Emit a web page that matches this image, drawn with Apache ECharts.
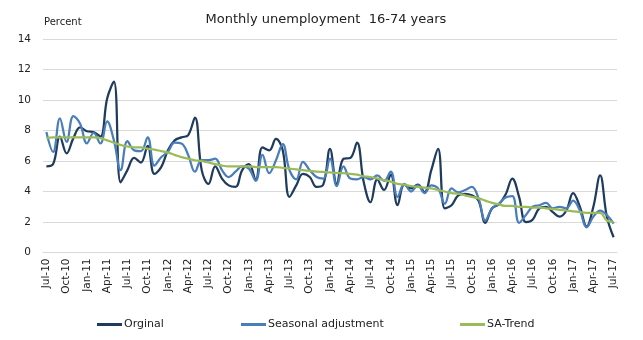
<!DOCTYPE html>
<html>
<head>
<meta charset="utf-8">
<script src="https://cdn.jsdelivr.net/npm/echarts@6/dist/echarts.min.js"></script>
<style>
html,body{margin:0;padding:0;background:#fff;}
#c{width:643px;height:340px;}
</style>
</head>
<body>
<div id="c"></div>
<script>
const months = ['Jan','Feb','Mar','Apr','May','Jun','Jul','Aug','Sep','Oct','Nov','Dec'];
const categories = [];
for (let k = 0; k < 85; k++) {
  const m = (6 + k) % 12;
  const y = 10 + Math.floor((6 + k) / 12);
  categories.push(months[m] + '-' + y);
}
const original = [
  5.65,5.8,7.6,6.5,7.5,8.2,7.95,7.9,7.6,10.1,11.2,4.6,5.4,6.2,5.9,7.0,
  5.15,5.6,6.7,7.35,7.55,7.7,8.85,5.4,4.5,5.65,4.85,4.4,4.3,5.4,5.8,4.75,6.9,6.7,
  7.45,6.7,3.65,4.4,5.15,4.95,4.3,4.45,6.8,4.5,6.15,6.2,7.2,4.6,3.3,4.8,4.1,5.1,
  3.1,4.45,4.2,4.45,3.95,5.4,6.8,2.9,3.1,3.75,3.85,3.75,3.4,1.95,2.9,3.15,3.8,
  4.85,3.65,2.0,2.15,2.9,3.0,2.65,2.35,2.75,3.9,3.0,1.7,3.0,5.05,2.35,1.0
];
const seasonal = [
  7.9,6.6,8.8,7.25,8.95,8.45,7.15,7.85,7.15,8.6,7.35,5.4,7.3,6.7,6.65,7.55,
  5.7,6.25,6.6,7.2,7.15,6.4,5.3,6.05,6.05,6.15,5.4,4.95,5.3,5.65,5.5,4.7,6.4,5.2,
  6.05,7.1,5.4,4.8,5.95,5.4,4.95,4.85,6.15,4.35,5.65,4.85,4.8,4.95,4.8,5.05,4.7,5.3,
  3.65,4.5,4.0,4.4,3.9,4.4,4.2,3.2,4.2,3.95,4.1,4.3,3.55,2.1,2.9,3.2,3.6,
  3.7,1.95,2.45,3.0,3.1,3.25,2.9,3.0,2.9,3.4,2.75,1.65,2.35,2.75,2.45,1.9
];
const trend = [
  7.5,7.55,7.55,7.55,7.55,7.55,7.55,7.55,7.5,7.35,7.2,7.05,6.95,6.9,6.9,6.8,
  6.75,6.65,6.55,6.4,6.25,6.15,6.05,6.0,5.9,5.8,5.7,5.65,5.65,5.65,5.65,5.6,5.6,5.6,
  5.6,5.55,5.5,5.45,5.4,5.35,5.3,5.28,5.25,5.22,5.2,5.15,5.1,5.0,4.95,4.85,4.75,4.65,
  4.5,4.45,4.35,4.3,4.25,4.2,4.1,4.0,3.9,3.85,3.75,3.65,3.55,3.4,3.25,3.15,3.05,
  3.05,3.0,3.0,2.95,2.95,2.9,2.85,2.8,2.75,2.7,2.65,2.6,2.6,2.6,2.1,2.0
];
const yTicks = [0,2,4,6,8,10,12,14];
const seriesNames = ['Orginal','Seasonal adjustment','SA-Trend'];
const seriesColors = ['#1f3b5e','#4a7ebb','#9bbb59'];

const font = 'DejaVu Sans, Verdana, sans-serif';
const legendLefts = [92, 236, 455];
const chart = echarts.init(document.getElementById('c'), null, {renderer:'canvas'});
chart.setOption({
  animation: false,
  backgroundColor: '#fff',
  title: [
    {text: 'Monthly unemployment  16-74 years', left: 321, top: 8, textAlign: 'center',
     textStyle: {fontFamily: font, fontSize: 13, fontWeight: 'normal', color: '#222'}},
    {text: 'Percent', left: 39, top: 12,
     textStyle: {fontFamily: font, fontSize: 10, fontWeight: 'normal', color: '#222'}}
  ],
  grid: {left: 43, right: 26, top: 39, bottom: 87.5},
  legend: seriesNames.map((n, i) => ({
    bottom: 5, left: legendLefts[i], itemWidth: 25, itemHeight: 3,
    icon: 'rect',
    textStyle: {fontFamily: font, fontSize: 11, color: '#222', padding: [0,0,0,-3]},
    data: [n]
  })),
  xAxis: {
    type: 'category', data: categories, boundaryGap: true,
    axisLine: {show: true, lineStyle: {color: '#d9d9d9'}},
    axisTick: {show: false},
    axisLabel: {interval: 2, rotate: 90, fontFamily: font, fontSize: 10.5, color: '#222', margin: 6}
  },
  yAxis: {
    type: 'value', min: yTicks[0], max: yTicks[yTicks.length-1], interval: 2,
    axisLine: {show: false}, axisTick: {show: false},
    axisLabel: {fontFamily: font, fontSize: 10.5, color: '#222', margin: 12},
    splitLine: {lineStyle: {color: '#d9d9d9', width: 1}}
  },
  series: [
    {name: seriesNames[0], type: 'line', data: original, smooth: 0.4, showSymbol: false,
     lineStyle: {color: seriesColors[0], width: 2.25}, itemStyle: {color: seriesColors[0]}},
    {name: seriesNames[1], type: 'line', data: seasonal, smooth: 0.4, showSymbol: false,
     lineStyle: {color: seriesColors[1], width: 2.25}, itemStyle: {color: seriesColors[1]}},
    {name: seriesNames[2], type: 'line', data: trend, smooth: 0.4, showSymbol: false,
     lineStyle: {color: seriesColors[2], width: 2.25}, itemStyle: {color: seriesColors[2]}}
  ]
});
</script>
</body>
</html>
